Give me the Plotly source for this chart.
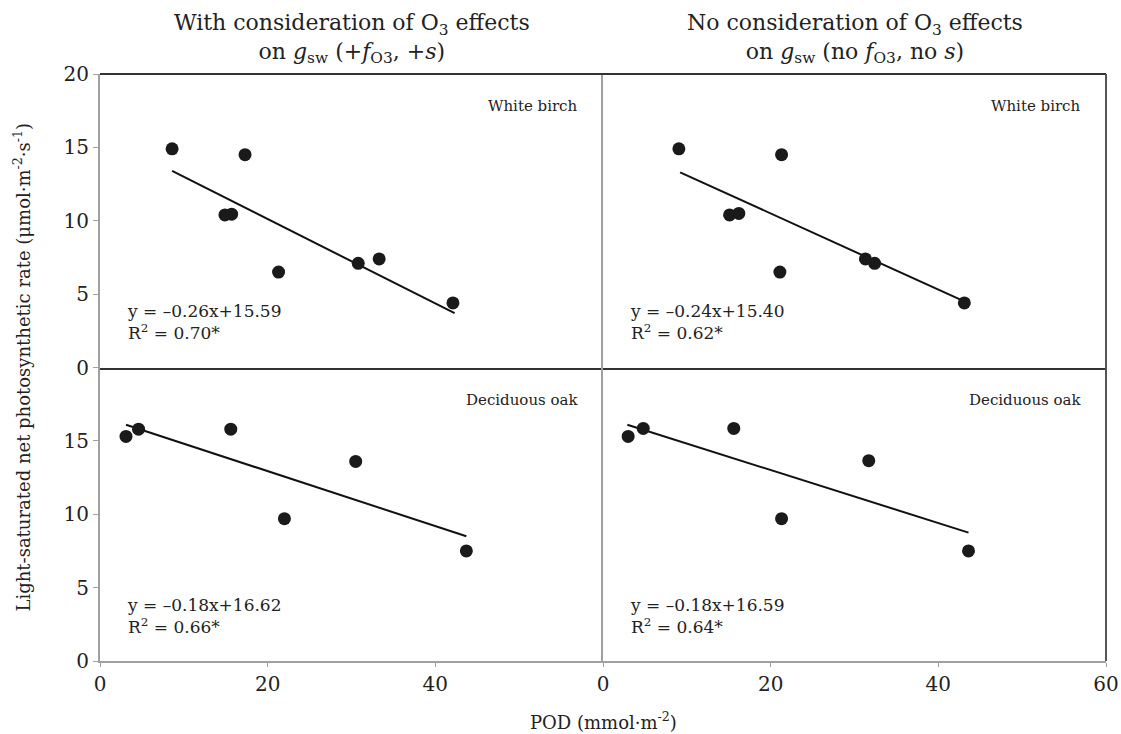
import plotly.graph_objects as go
from plotly.subplots import make_subplots

# White birch, with O3 effects (+fO3, +s)
wb_with_x = [8.6, 14.9, 15.7, 17.3, 21.3, 30.8, 33.3, 42.1]
wb_with_y = [14.9, 10.4, 10.45, 14.5, 6.5, 7.1, 7.4, 4.4]
wb_with_line_x = [8.6, 42.3]
wb_with_line_y = [13.4, 3.7]

# White birch, no O3 effects
wb_no_x = [9.05, 15.1, 16.2, 21.3, 21.1, 31.3, 32.4, 43.1]
wb_no_y = [14.9, 10.4, 10.5, 14.5, 6.5, 7.4, 7.1, 4.4]
wb_no_line_x = [9.2, 43.1]
wb_no_line_y = [13.3, 4.5]

# Deciduous oak, with O3 effects
do_with_x = [3.1, 4.6, 15.6, 22.0, 30.5, 43.7]
do_with_y = [15.3, 15.8, 15.8, 9.7, 13.6, 7.5]
do_with_line_x = [3.1, 43.7]
do_with_line_y = [16.1, 8.5]

# Deciduous oak, no O3 effects
do_no_x = [3.0, 4.8, 15.6, 21.3, 31.7, 43.6]
do_no_y = [15.3, 15.85, 15.85, 9.7, 13.65, 7.5]
do_no_line_x = [2.9, 43.6]
do_no_line_y = [16.1, 8.75]

equations = ["y = –0.26x+15.59<br>R<sup>2</sup> = 0.70*",
             "y = –0.24x+15.40<br>R<sup>2</sup> = 0.62*",
             "y = –0.18x+16.62<br>R<sup>2</sup> = 0.66*",
             "y = –0.18x+16.59<br>R<sup>2</sup> = 0.64*"]
species = ["White birch", "White birch", "Deciduous oak", "Deciduous oak"]
col_titles = ["With consideration of O<sub>3</sub> effects<br>on <i>g</i><sub>sw</sub> (+<i>f</i><sub>O3</sub>, +<i>s</i>)",
              "No consideration of O<sub>3</sub> effects<br>on <i>g</i><sub>sw</sub> (no <i>f</i><sub>O3</sub>, no <i>s</i>)"]
x_ticks_left = [0, 20, 40]
x_ticks_right = [0, 20, 40, 60]
y_ticks_top = [0, 5, 10, 15, 20]
y_ticks_bottom = [0, 5, 10, 15]

FONT = "DejaVu Serif"
fig = make_subplots(rows=2, cols=2, horizontal_spacing=0, vertical_spacing=0)

panels = [
    (1, 1, wb_with_x, wb_with_y, wb_with_line_x, wb_with_line_y),
    (1, 2, wb_no_x, wb_no_y, wb_no_line_x, wb_no_line_y),
    (2, 1, do_with_x, do_with_y, do_with_line_x, do_with_line_y),
    (2, 2, do_no_x, do_no_y, do_no_line_x, do_no_line_y),
]
for i, (r, c, px, py, lx, ly) in enumerate(panels):
    fig.add_trace(go.Scatter(x=lx, y=ly, mode="lines",
                             line=dict(color="#111111", width=2), showlegend=False),
                  row=r, col=c)
    fig.add_trace(go.Scatter(x=px, y=py, mode="markers",
                             marker=dict(color="#1a1a1a", size=13), showlegend=False),
                  row=r, col=c)
    ax = "" if i == 0 else str(i + 1)
    fig.add_annotation(xref=f"x{ax} domain", yref=f"y{ax} domain", x=0.955, y=0.89,
                       text=species[i], showarrow=False, xanchor="right", yanchor="middle",
                       font=dict(family=FONT, size=15, color="#222"))
    fig.add_annotation(xref=f"x{ax} domain", yref=f"y{ax} domain", x=0.05,
                       y=0.075, text=equations[i], showarrow=False, xanchor="left", yanchor="bottom",
                       align="left", font=dict(family=FONT, size=17, color="#222"))

gray = "#a0a0a0"
dark = "#333333"
for r in (1, 2):
    for c in (1, 2):
        xt = x_ticks_left if c == 1 else x_ticks_right
        yt = y_ticks_top if r == 1 else y_ticks_bottom
        fig.update_xaxes(range=[0, 60], tickvals=xt, showgrid=False, zeroline=False,
                         showline=True, linecolor=gray if r == 2 else dark, linewidth=2,
                         ticks="outside" if r == 2 else "", ticklen=4, tickcolor=gray,
                         showticklabels=(r == 2), automargin=False,
                         tickfont=dict(family=FONT, size=20, color="#222"),
                         row=r, col=c)
        fig.update_yaxes(range=[0, 20], tickvals=yt, showgrid=False, zeroline=False,
                         showline=True, linecolor=gray, linewidth=2,
                         ticks="outside" if c == 1 else "", ticklen=5, tickcolor=gray,
                         showticklabels=(c == 1), automargin=False,
                         tickfont=dict(family=FONT, size=20, color="#222"),
                         row=r, col=c)

# outer top and right border
fig.add_shape(type="line", xref="paper", yref="paper", x0=0, x1=1, y0=1, y1=1,
              line=dict(color=dark, width=2))
fig.add_shape(type="line", xref="paper", yref="paper", x0=1, x1=1, y0=0, y1=1,
              line=dict(color="#555555", width=2))

for k, t in enumerate(col_titles):
    fig.add_annotation(xref="paper", yref="paper", x=0.25 + 0.5 * k, y=1.0, yshift=5,
                       text=t, showarrow=False, xanchor="center", yanchor="bottom",
                       font=dict(family=FONT, size=22, color="#222"))

fig.add_annotation(xref="paper", yref="paper", x=0.5, y=0, yshift=-46,
                   text="POD (mmol·m<sup>-2</sup>)", showarrow=False, xanchor="center",
                   yanchor="top", font=dict(family=FONT, size=18, color="#222"))
fig.add_annotation(xref="paper", yref="paper", x=0, xshift=-78, y=0.5,
                   text="Light-saturated net photosynthetic rate (μmol·m<sup>-2</sup>·s<sup>-1</sup>)",
                   showarrow=False, textangle=-90, xanchor="center", yanchor="middle",
                   font=dict(family=FONT, size=18, color="#222"))

fig.update_layout(width=1121, height=734, plot_bgcolor="white", paper_bgcolor="white",
                  margin=dict(l=100, r=15, t=74, b=73), hovermode=False)
# remove the page's default body margin so the figure fills the window exactly
fig.write_html("out.html", config={"displayModeBar": False},
               post_script="document.body.style.margin='0';document.body.style.overflow='hidden';")
